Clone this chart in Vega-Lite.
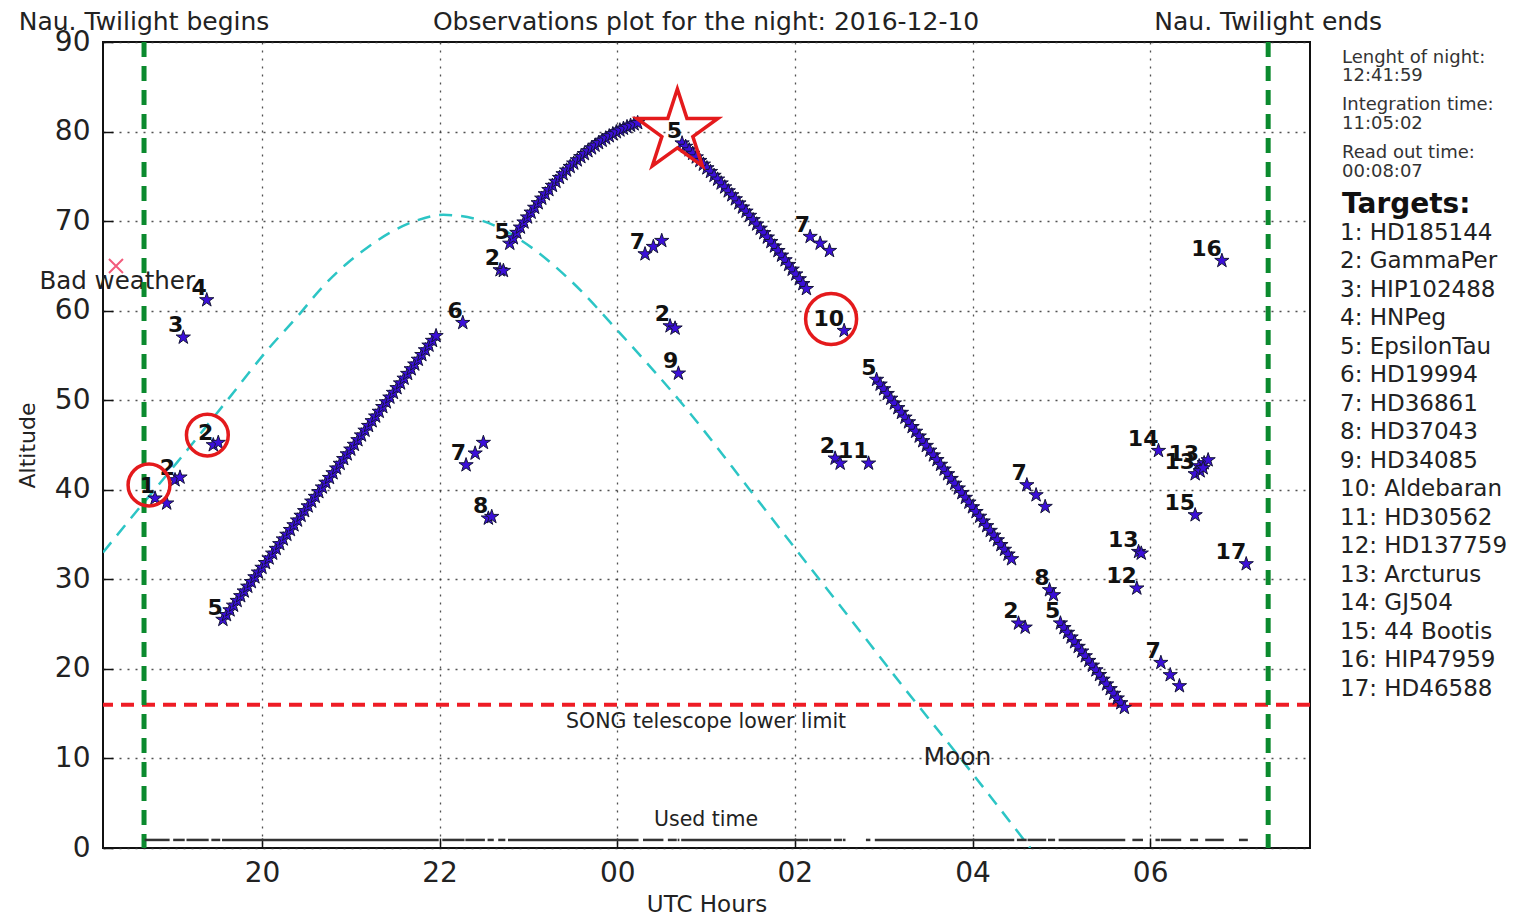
{
"$schema":"https://vega.github.io/schema/vega-lite/v6.json",
"width":1207,"height":806,
"autosize":{"type":"none"},
"padding":{"left":103,"top":42,"right":224,"bottom":69},
"background":"white",
"config":{
"font":"DejaVu Sans",
"view":{"stroke":"#111","strokeWidth":2},
"axis":{"labelFont":"DejaVu Sans","labelFontSize":28,"labelColor":"#222","titleFont":"DejaVu Sans","titleFontWeight":"normal","titleColor":"#222","grid":true,"gridColor":"#333","gridDash":[2,6],"gridWidth":1.3,"gridOpacity":0.85,"domain":false,"tickColor":"#111","tickSize":-10,"tickWidth":1.5}
},
"datasets":{
"targets":[{"id":1,"label":"1: HD185144"},{"id":2,"label":"2: GammaPer"},{"id":3,"label":"3: HIP102488"},{"id":4,"label":"4: HNPeg"},{"id":5,"label":"5: EpsilonTau"},{"id":6,"label":"6: HD19994"},{"id":7,"label":"7: HD36861"},{"id":8,"label":"8: HD37043"},{"id":9,"label":"9: HD34085"},{"id":10,"label":"10: Aldebaran"},{"id":11,"label":"11: HD30562"},{"id":12,"label":"12: HD137759"},{"id":13,"label":"13: Arcturus"},{"id":14,"label":"14: GJ504"},{"id":15,"label":"15: 44 Bootis"},{"id":16,"label":"16: HIP47959"},{"id":17,"label":"17: HD46588"}],
"moon":[{"h":18.21,"alt":33.0},{"h":18.63,"alt":38.1},{"h":19.04,"alt":43.0},{"h":19.61,"alt":50.0},{"h":20.06,"alt":55.6},{"h":20.43,"alt":59.7},{"h":20.65,"alt":62.3},{"h":20.96,"alt":65.3},{"h":21.18,"alt":67.0},{"h":21.44,"alt":68.7},{"h":21.75,"alt":70.1},{"h":22.04,"alt":70.7},{"h":22.46,"alt":70.1},{"h":22.91,"alt":67.9},{"h":23.47,"alt":63.4},{"h":24.03,"alt":57.5},{"h":24.79,"alt":48.9},{"h":25.5,"alt":39.9},{"h":26.0,"alt":33.5},{"h":26.6,"alt":25.9},{"h":27.22,"alt":18.0},{"h":27.85,"alt":10.2},{"h":28.65,"alt":0.0}],
"used":[{"start":18.68,"end":18.96},{"start":19.0,"end":19.13},{"start":19.15,"end":19.4},{"start":19.43,"end":19.53},{"start":19.55,"end":21.99},{"start":22.03,"end":22.28},{"start":22.29,"end":22.51},{"start":22.54,"end":22.61},{"start":22.66,"end":22.74},{"start":22.77,"end":24.24},{"start":24.29,"end":24.52},{"start":24.57,"end":24.67},{"start":24.68,"end":24.7},{"start":24.72,"end":26.15},{"start":26.16,"end":26.41},{"start":26.44,"end":26.53},{"start":26.54,"end":26.57},{"start":26.8,"end":26.85},{"start":26.9,"end":28.47},{"start":28.5,"end":28.61},{"start":28.62,"end":28.83},{"start":28.85,"end":28.93},{"start":28.97,"end":29.72},{"start":29.8,"end":29.92},{"start":30.06,"end":30.11},{"start":30.12,"end":30.35},{"start":30.45,"end":30.54},{"start":30.62,"end":30.83},{"start":31.0,"end":31.1}],
"obs":[
{"h":18.796,"alt":39.05,"id":1,"lab":"1"},{"h":18.927,"alt":38.49,"id":1},
{"h":19.021,"alt":41.09,"id":2,"lab":"2"},{"h":19.077,"alt":41.39,"id":2},
{"h":19.114,"alt":57.02,"id":3,"lab":"3"},
{"h":19.378,"alt":61.19,"id":4,"lab":"4"},
{"h":19.452,"alt":45.0,"id":2,"lab":"2"},{"h":19.508,"alt":45.26,"id":2},
{"h":19.56,"alt":25.5,"id":5,"lab":"5"},{"h":19.6,"alt":26.03,"id":5},{"h":19.64,"alt":26.56,"id":5},{"h":19.68,"alt":27.08,"id":5},{"h":19.72,"alt":27.61,"id":5},{"h":19.76,"alt":28.14,"id":5},{"h":19.8,"alt":28.67,"id":5},{"h":19.84,"alt":29.2,"id":5},{"h":19.88,"alt":29.72,"id":5},{"h":19.92,"alt":30.25,"id":5},{"h":19.96,"alt":30.78,"id":5},{"h":20.0,"alt":31.31,"id":5},{"h":20.04,"alt":31.84,"id":5},{"h":20.08,"alt":32.36,"id":5},{"h":20.12,"alt":32.89,"id":5},{"h":20.16,"alt":33.42,"id":5},{"h":20.2,"alt":33.95,"id":5},{"h":20.24,"alt":34.48,"id":5},{"h":20.28,"alt":35.0,"id":5},{"h":20.32,"alt":35.53,"id":5},{"h":20.36,"alt":36.06,"id":5},{"h":20.4,"alt":36.59,"id":5},{"h":20.44,"alt":37.12,"id":5},{"h":20.48,"alt":37.64,"id":5},{"h":20.52,"alt":38.17,"id":5},{"h":20.56,"alt":38.7,"id":5},{"h":20.6,"alt":39.23,"id":5},{"h":20.64,"alt":39.76,"id":5},{"h":20.68,"alt":40.28,"id":5},{"h":20.72,"alt":40.81,"id":5},{"h":20.76,"alt":41.34,"id":5},{"h":20.8,"alt":41.87,"id":5},{"h":20.84,"alt":42.4,"id":5},{"h":20.88,"alt":42.92,"id":5},{"h":20.92,"alt":43.45,"id":5},{"h":20.96,"alt":43.98,"id":5},{"h":21.0,"alt":44.51,"id":5},{"h":21.04,"alt":45.04,"id":5},{"h":21.08,"alt":45.56,"id":5},{"h":21.12,"alt":46.09,"id":5},{"h":21.16,"alt":46.62,"id":5},{"h":21.2,"alt":47.15,"id":5},{"h":21.24,"alt":47.68,"id":5},{"h":21.28,"alt":48.2,"id":5},{"h":21.32,"alt":48.73,"id":5},{"h":21.36,"alt":49.26,"id":5},{"h":21.4,"alt":49.79,"id":5},{"h":21.44,"alt":50.32,"id":5},{"h":21.48,"alt":50.84,"id":5},{"h":21.52,"alt":51.37,"id":5},{"h":21.56,"alt":51.9,"id":5},{"h":21.6,"alt":52.43,"id":5},{"h":21.64,"alt":52.96,"id":5},{"h":21.68,"alt":53.48,"id":5},{"h":21.72,"alt":54.01,"id":5},{"h":21.76,"alt":54.54,"id":5},{"h":21.8,"alt":55.07,"id":5},{"h":21.84,"alt":55.6,"id":5},{"h":21.88,"alt":56.12,"id":5},{"h":21.92,"alt":56.65,"id":5},{"h":21.96,"alt":57.18,"id":5},
{"h":22.261,"alt":58.65,"id":6,"lab":"6"},
{"h":22.298,"alt":42.76,"id":7,"lab":"7"},{"h":22.4,"alt":44.07,"id":7},{"h":22.493,"alt":45.26,"id":7},
{"h":22.549,"alt":36.81,"id":8,"lab":"8"},{"h":22.587,"alt":36.99,"id":8},
{"h":22.681,"alt":64.54,"id":2,"lab":"2"},{"h":22.718,"alt":64.46,"id":2},
{"h":22.79,"alt":67.5,"id":5,"lab":"5"},{"h":22.83,"alt":68.11,"id":5},{"h":22.87,"alt":68.71,"id":5},{"h":22.91,"alt":69.3,"id":5},{"h":22.95,"alt":69.87,"id":5},{"h":22.99,"alt":70.43,"id":5},{"h":23.03,"alt":70.97,"id":5},{"h":23.07,"alt":71.51,"id":5},{"h":23.11,"alt":72.02,"id":5},{"h":23.15,"alt":72.53,"id":5},{"h":23.19,"alt":73.02,"id":5},{"h":23.23,"alt":73.49,"id":5},{"h":23.27,"alt":73.96,"id":5},{"h":23.31,"alt":74.41,"id":5},{"h":23.35,"alt":74.84,"id":5},{"h":23.39,"alt":75.26,"id":5},{"h":23.43,"alt":75.67,"id":5},{"h":23.47,"alt":76.07,"id":5},{"h":23.51,"alt":76.45,"id":5},{"h":23.55,"alt":76.81,"id":5},{"h":23.59,"alt":77.17,"id":5},{"h":23.63,"alt":77.51,"id":5},{"h":23.67,"alt":77.83,"id":5},{"h":23.71,"alt":78.15,"id":5},{"h":23.75,"alt":78.45,"id":5},{"h":23.79,"alt":78.73,"id":5},{"h":23.83,"alt":79.0,"id":5},{"h":23.87,"alt":79.26,"id":5},{"h":23.91,"alt":79.5,"id":5},{"h":23.95,"alt":79.73,"id":5},{"h":23.99,"alt":79.95,"id":5},{"h":24.03,"alt":80.15,"id":5},{"h":24.07,"alt":80.34,"id":5},{"h":24.11,"alt":80.52,"id":5},{"h":24.15,"alt":80.68,"id":5},{"h":24.19,"alt":80.83,"id":5},{"h":24.23,"alt":80.97,"id":5},
{"h":24.313,"alt":66.32,"id":7,"lab":"7"},{"h":24.407,"alt":67.14,"id":7},{"h":24.501,"alt":67.81,"id":7},
{"h":24.595,"alt":58.28,"id":2,"lab":"2"},{"h":24.651,"alt":58.03,"id":2},
{"h":24.689,"alt":53.0,"id":9,"lab":"9"},
{"h":24.73,"alt":78.7,"id":5,"lab":"5"},{"h":24.77,"alt":78.32,"id":5},{"h":24.81,"alt":77.93,"id":5},{"h":24.85,"alt":77.54,"id":5},{"h":24.89,"alt":77.14,"id":5},{"h":24.93,"alt":76.74,"id":5},{"h":24.97,"alt":76.33,"id":5},{"h":25.01,"alt":75.92,"id":5},{"h":25.05,"alt":75.51,"id":5},{"h":25.09,"alt":75.08,"id":5},{"h":25.13,"alt":74.66,"id":5},{"h":25.17,"alt":74.23,"id":5},{"h":25.21,"alt":73.79,"id":5},{"h":25.25,"alt":73.35,"id":5},{"h":25.29,"alt":72.91,"id":5},{"h":25.33,"alt":72.46,"id":5},{"h":25.37,"alt":72.0,"id":5},{"h":25.41,"alt":71.54,"id":5},{"h":25.45,"alt":71.08,"id":5},{"h":25.49,"alt":70.61,"id":5},{"h":25.53,"alt":70.13,"id":5},{"h":25.57,"alt":69.65,"id":5},{"h":25.61,"alt":69.17,"id":5},{"h":25.65,"alt":68.68,"id":5},{"h":25.69,"alt":68.19,"id":5},{"h":25.73,"alt":67.69,"id":5},{"h":25.77,"alt":67.19,"id":5},{"h":25.81,"alt":66.68,"id":5},{"h":25.85,"alt":66.17,"id":5},{"h":25.89,"alt":65.65,"id":5},{"h":25.93,"alt":65.13,"id":5},{"h":25.97,"alt":64.6,"id":5},{"h":26.01,"alt":64.07,"id":5},{"h":26.05,"alt":63.53,"id":5},{"h":26.09,"alt":62.99,"id":5},{"h":26.13,"alt":62.44,"id":5},
{"h":26.172,"alt":68.26,"id":7,"lab":"7"},{"h":26.285,"alt":67.51,"id":7},{"h":26.39,"alt":66.69,"id":7},
{"h":26.453,"alt":43.51,"id":2,"lab":"2"},{"h":26.51,"alt":42.95,"id":2},
{"h":26.555,"alt":57.76,"id":10,"lab":"10"},
{"h":26.83,"alt":42.95,"id":11,"lab":"11"},
{"h":26.92,"alt":52.3,"id":5,"lab":"5"},{"h":26.96,"alt":51.77,"id":5},{"h":27.0,"alt":51.25,"id":5},{"h":27.04,"alt":50.72,"id":5},{"h":27.08,"alt":50.19,"id":5},{"h":27.12,"alt":49.66,"id":5},{"h":27.16,"alt":49.14,"id":5},{"h":27.2,"alt":48.61,"id":5},{"h":27.24,"alt":48.08,"id":5},{"h":27.28,"alt":47.56,"id":5},{"h":27.32,"alt":47.03,"id":5},{"h":27.36,"alt":46.5,"id":5},{"h":27.4,"alt":45.97,"id":5},{"h":27.44,"alt":45.45,"id":5},{"h":27.48,"alt":44.92,"id":5},{"h":27.52,"alt":44.39,"id":5},{"h":27.56,"alt":43.86,"id":5},{"h":27.6,"alt":43.34,"id":5},{"h":27.64,"alt":42.81,"id":5},{"h":27.68,"alt":42.28,"id":5},{"h":27.72,"alt":41.76,"id":5},{"h":27.76,"alt":41.23,"id":5},{"h":27.8,"alt":40.7,"id":5},{"h":27.84,"alt":40.17,"id":5},{"h":27.88,"alt":39.65,"id":5},{"h":27.92,"alt":39.12,"id":5},{"h":27.96,"alt":38.59,"id":5},{"h":28.0,"alt":38.07,"id":5},{"h":28.04,"alt":37.54,"id":5},{"h":28.08,"alt":37.01,"id":5},{"h":28.12,"alt":36.48,"id":5},{"h":28.16,"alt":35.96,"id":5},{"h":28.2,"alt":35.43,"id":5},{"h":28.24,"alt":34.9,"id":5},{"h":28.28,"alt":34.38,"id":5},{"h":28.32,"alt":33.85,"id":5},{"h":28.36,"alt":33.32,"id":5},{"h":28.4,"alt":32.79,"id":5},{"h":28.44,"alt":32.27,"id":5},
{"h":28.518,"alt":25.09,"id":2,"lab":"2"},{"h":28.593,"alt":24.63,"id":2},
{"h":28.612,"alt":40.53,"id":7,"lab":"7"},{"h":28.716,"alt":39.41,"id":7},{"h":28.818,"alt":38.11,"id":7},
{"h":28.867,"alt":28.81,"id":8,"lab":"8"},{"h":28.912,"alt":28.25,"id":8},
{"h":28.99,"alt":25.1,"id":5,"lab":"5"},{"h":29.03,"alt":24.58,"id":5},{"h":29.07,"alt":24.05,"id":5},{"h":29.11,"alt":23.53,"id":5},{"h":29.15,"alt":23.0,"id":5},{"h":29.19,"alt":22.48,"id":5},{"h":29.23,"alt":21.96,"id":5},{"h":29.27,"alt":21.43,"id":5},{"h":29.31,"alt":20.91,"id":5},{"h":29.35,"alt":20.38,"id":5},{"h":29.39,"alt":19.86,"id":5},{"h":29.43,"alt":19.34,"id":5},{"h":29.47,"alt":18.81,"id":5},{"h":29.51,"alt":18.29,"id":5},{"h":29.55,"alt":17.76,"id":5},{"h":29.59,"alt":17.24,"id":5},{"h":29.63,"alt":16.72,"id":5},{"h":29.67,"alt":16.19,"id":5},{"h":29.71,"alt":15.67,"id":5},
{"h":29.85,"alt":29.0,"id":12,"lab":"12"},
{"h":29.87,"alt":33.08,"id":13,"lab":"13"},{"h":29.9,"alt":32.9,"id":13},
{"h":30.094,"alt":44.36,"id":14,"lab":"14"},
{"h":30.121,"alt":20.69,"id":7,"lab":"7"},{"h":30.226,"alt":19.32,"id":7},{"h":30.33,"alt":18.09,"id":7},
{"h":30.507,"alt":37.18,"id":15,"lab":"15"},
{"h":30.552,"alt":42.65,"id":13,"lab":"13"},{"h":30.608,"alt":42.99,"id":13},{"h":30.653,"alt":43.32,"id":13},
{"h":30.507,"alt":41.76,"id":13,"lab":"13"},{"h":30.563,"alt":42.09,"id":13},{"h":30.597,"alt":42.43,"id":13},
{"h":30.808,"alt":65.58,"id":16,"lab":"16"},
{"h":31.082,"alt":31.71,"id":17,"lab":"17"}
]
},
"layer":[
{"data":{"name":"moon"},
 "mark":{"type":"line","color":"#2cc5c5","strokeWidth":2.5,"strokeDash":[13,9],"interpolate":"monotone","clip":true},
 "encoding":{
  "x":{"field":"h","type":"quantitative","scale":{"domain":[18.21,31.8],"nice":false,"zero":false},
       "axis":{"values":[20,22,24,26,28,30],"labelExpr":"(datum.value % 24 < 10 ? '0' : '') + (datum.value % 24)","title":"UTC Hours","titleFontSize":23,"titlePadding":6,"labelPadding":21}},
  "y":{"field":"alt","type":"quantitative","scale":{"domain":[0,90],"nice":false,"zero":false},
       "axis":{"values":[0,10,20,30,40,50,60,70,80,90],"title":"Altitude","titleFontSize":22,"titlePadding":15,"labelPadding":23}}
 }},
{"data":{"values":[{}]},"mark":{"type":"rule","color":"#ee1c25","strokeWidth":4,"strokeDash":[13,8]},"encoding":{"y":{"datum":16}}},
{"data":{"values":[{}]},"mark":{"type":"text","text":"Observations plot for the night: 2016-12-10","fontSize":25,"color":"#222","align":"center","baseline":"middle"},"encoding":{"x":{"datum":25.0},"y":{"datum":92.23}}},
{"data":{"values":[{}]},"mark":{"type":"text","text":"Nau. Twilight begins","fontSize":25,"color":"#222","align":"center","baseline":"middle"},"encoding":{"x":{"datum":18.672},"y":{"datum":92.23}}},
{"data":{"values":[{}]},"mark":{"type":"text","text":"Nau. Twilight ends","fontSize":25,"color":"#222","align":"center","baseline":"middle"},"encoding":{"x":{"datum":31.329},"y":{"datum":92.23}}},
{"data":{"values":[{}]},"mark":{"type":"text","text":"Bad weather","fontSize":24.5,"color":"#222","align":"center","baseline":"middle"},"encoding":{"x":{"datum":18.37},"y":{"datum":63.2}}},
{"data":{"values":[{}]},"mark":{"type":"text","text":"SONG telescope lower limit","fontSize":20.5,"color":"#222","align":"center","baseline":"middle"},"encoding":{"x":{"datum":25.0},"y":{"datum":14.07}}},
{"data":{"values":[{}]},"mark":{"type":"text","text":"Used time","fontSize":20.5,"color":"#222","align":"center","baseline":"middle"},"encoding":{"x":{"datum":25.0},"y":{"datum":3.13}}},
{"data":{"values":[{}]},"mark":{"type":"text","text":"Moon","fontSize":25,"color":"#222","align":"center","baseline":"middle"},"encoding":{"x":{"datum":27.83},"y":{"datum":10.2}}},
{"data":{"values":[{}]},"mark":{"type":"text","text":"Lenght of night:","fontSize":18,"color":"#333","align":"left","baseline":"middle"},"encoding":{"x":{"datum":32.16},"y":{"datum":88.21}}},
{"data":{"values":[{}]},"mark":{"type":"text","text":"12:41:59","fontSize":18,"color":"#333","align":"left","baseline":"middle"},"encoding":{"x":{"datum":32.16},"y":{"datum":86.2}}},
{"data":{"values":[{}]},"mark":{"type":"text","text":"Integration time:","fontSize":18,"color":"#333","align":"left","baseline":"middle"},"encoding":{"x":{"datum":32.16},"y":{"datum":82.96}}},
{"data":{"values":[{}]},"mark":{"type":"text","text":"11:05:02","fontSize":18,"color":"#333","align":"left","baseline":"middle"},"encoding":{"x":{"datum":32.16},"y":{"datum":80.84}}},
{"data":{"values":[{}]},"mark":{"type":"text","text":"Read out time:","fontSize":18,"color":"#333","align":"left","baseline":"middle"},"encoding":{"x":{"datum":32.16},"y":{"datum":77.6}}},
{"data":{"values":[{}]},"mark":{"type":"text","text":"00:08:07","fontSize":18,"color":"#333","align":"left","baseline":"middle"},"encoding":{"x":{"datum":32.16},"y":{"datum":75.48}}},
{"data":{"values":[{}]},"mark":{"type":"rule","color":"#0b8a2e","strokeWidth":5,"strokeDash":[15,9]},"encoding":{"x":{"datum":18.672}}},
{"data":{"values":[{}]},"mark":{"type":"rule","color":"#0b8a2e","strokeWidth":5,"strokeDash":[15,9]},"encoding":{"x":{"datum":31.329}}},
{"data":{"name":"used"},"mark":{"type":"rule","color":"#333","strokeWidth":2.5},"encoding":{"x":{"field":"start","type":"quantitative"},"x2":{"field":"end"},"y":{"datum":0.9}}},
{"data":{"values":[{}]},"mark":{"type":"point","shape":"M-1,-1L1,1M-1,1L1,-1","filled":false,"size":196,"stroke":"#f25c7c","strokeWidth":2,"opacity":1},"encoding":{"x":{"datum":18.356},"y":{"datum":64.98}}},
{"data":{"name":"obs"},
 "transform":[{"lookup":"id","from":{"data":{"name":"targets"},"key":"id","fields":["label"]}}],
 "mark":{"type":"point","shape":"M0,-1L0.2245,-0.309L0.951,-0.309L0.3633,0.118L0.588,0.809L0,0.382L-0.588,0.809L-0.3633,0.118L-0.951,-0.309L-0.2245,-0.309Z","filled":true,"size":225,"stroke":"#15153a","strokeWidth":1,"opacity":1},
 "encoding":{
  "x":{"field":"h","type":"quantitative"},
  "y":{"field":"alt","type":"quantitative"},
  "color":{"field":"label","type":"nominal","sort":{"field":"id","op":"min"},
    "scale":{"range":["#3b0fd9","#3b0fd9","#3b0fd9","#3b0fd9","#3b0fd9","#3b0fd9","#3b0fd9","#3b0fd9","#3b0fd9","#3b0fd9","#3b0fd9","#3b0fd9","#3b0fd9","#3b0fd9","#3b0fd9","#3b0fd9","#3b0fd9"]},
    "legend":{"orient":"none","legendX":1239,"legendY":149,"title":"Targets:","titleFont":"DejaVu Sans","titleFontSize":28,"titleFontWeight":"bold","titleColor":"#111","titlePadding":2,"labelFont":"DejaVu Sans","labelFontSize":23,"labelColor":"#222","labelLimit":400,"symbolSize":0,"symbolOpacity":0,"symbolStrokeWidth":0,"labelOffset":-25,"rowPadding":4.5,"padding":0}}
 }},
{"data":{"name":"obs"},
 "transform":[{"filter":{"field":"lab","valid":true}}],
 "mark":{"type":"text","fontSize":22,"fontWeight":"bold","color":"#111","align":"right","baseline":"alphabetic","dy":-5},
 "encoding":{"x":{"field":"h","type":"quantitative"},"y":{"field":"alt","type":"quantitative"},"text":{"field":"lab"}}},
{"data":{"values":[{"h":18.728,"alt":40.53},{"h":19.385,"alt":46.11}]},"mark":{"type":"point","shape":"circle","filled":false,"size":1750,"stroke":"#e41a1c","strokeWidth":3.5,"opacity":1},"encoding":{"x":{"field":"h","type":"quantitative"},"y":{"field":"alt","type":"quantitative"}}},
{"data":{"values":[{}]},"mark":{"type":"point","shape":"circle","filled":false,"size":2600,"stroke":"#e41a1c","strokeWidth":3.5,"opacity":1},"encoding":{"x":{"datum":26.408},"y":{"datum":59.07}}},
{"data":{"values":[{}]},"mark":{"type":"point","shape":"M0,-1L0.2245,-0.309L0.951,-0.309L0.3633,0.118L0.588,0.809L0,0.382L-0.588,0.809L-0.3633,0.118L-0.951,-0.309L-0.2245,-0.309Z","filled":false,"size":7259,"stroke":"#e41a1c","strokeWidth":3.5,"opacity":1},"encoding":{"x":{"datum":24.677},"y":{"datum":80.0}}}
]
}
